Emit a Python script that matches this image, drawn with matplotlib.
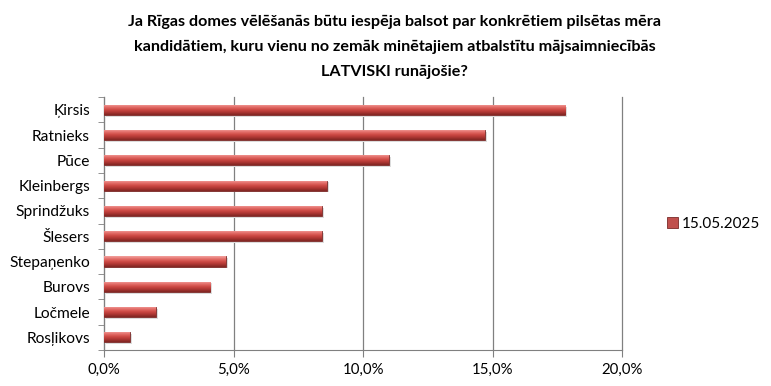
import matplotlib.pyplot as plt
import matplotlib.ticker as mticker
import numpy as np

plt.rcParams['font.family'] = ['Lato', 'DejaVu Sans']

candidates = ['Ķirsis', 'Ratnieks', 'Pūce', 'Kleinbergs', 'Sprindžuks',
              'Šlesers', 'Stepaņenko', 'Burovs', 'Ločmele', 'Rosļikovs']
support = [17.8, 14.7, 11.0, 8.6, 8.4, 8.4, 4.7, 4.1, 2.0, 1.0]
series_label = '15.05.2025'
title = ('Ja Rīgas domes vēlēšanās būtu iespēja balsot par konkrētiem pilsētas mēra\n'
         'kandidātiem, kuru vienu no zemāk minētajiem atbalstītu mājsaimniecībās\n'
         'LATVISKI runājošie?')

fig = plt.figure(figsize=(7.71, 3.86), dpi=100)
ax = fig.add_axes([0.1349, 0.0933, 0.672, 0.655])

y = np.arange(len(candidates))
bars = ax.barh(y, support, height=0.4, color='#c0504d', edgecolor='#7a2a28',
               linewidth=0.6, label=series_label, zorder=3)

# cylinder-like shading inside each bar
grad = np.linspace(0, 1, 64).reshape(-1, 1)
cmap = plt.matplotlib.colors.LinearSegmentedColormap.from_list(
    'bar', ['#f4a4a0', '#e4706c', '#cf4a45', '#ad3733', '#7e2522'])
for b in bars:
    x0, y0, w, h = b.get_x(), b.get_y(), b.get_width(), b.get_height()
    im = ax.imshow(grad, cmap=cmap, aspect='auto', extent=[x0, x0 + w, y0 + h, y0],
                   zorder=3.5, interpolation='bicubic')
    im.set_clip_path(b)
# soft shadow under bars
ax.barh(y + 0.07, support, height=0.4, left=0.08, color='#dcdcdc', zorder=2.5,
        linewidth=0)

ax.set_xlim(0, 20)
ax.set_ylim(len(candidates) - 0.5, -0.5)
ax.set_xticks([0, 5, 10, 15, 20])
ax.xaxis.set_major_formatter(mticker.FuncFormatter(lambda v, p: f'{v:.1f}%'.replace('.', ',')))
ax.set_yticks(y)
ax.set_yticklabels(candidates)
ax.set_yticks(np.arange(-0.5, len(candidates), 1), minor=True)
ax.tick_params(axis='y', which='major', length=0, labelsize=11.2, pad=10)
ax.tick_params(axis='y', which='minor', length=4, color='#808080')
ax.tick_params(axis='x', length=5, color='#808080', labelsize=10.8, pad=4)

ax.grid(axis='x', color='#808080', linewidth=0.9, zorder=0)
for gl in ax.get_xgridlines():
    gl.set_clip_on(False)
for s in ['top', 'right']:
    ax.spines[s].set_visible(False)
for s in ['left', 'bottom']:
    ax.spines[s].set_color('#808080')

fig.text(0.512, 0.962, title, ha='center', va='top', fontsize=11.6, fontweight='bold',
         linespacing=2.0)

ax.legend(handles=[bars], labels=[series_label], loc='center left',
          bbox_to_anchor=(1.06, 0.5), frameon=False, fontsize=11,
          handlelength=0.7, handleheight=0.7, handletextpad=0.3)

fig.savefig('out.png', dpi=100)
